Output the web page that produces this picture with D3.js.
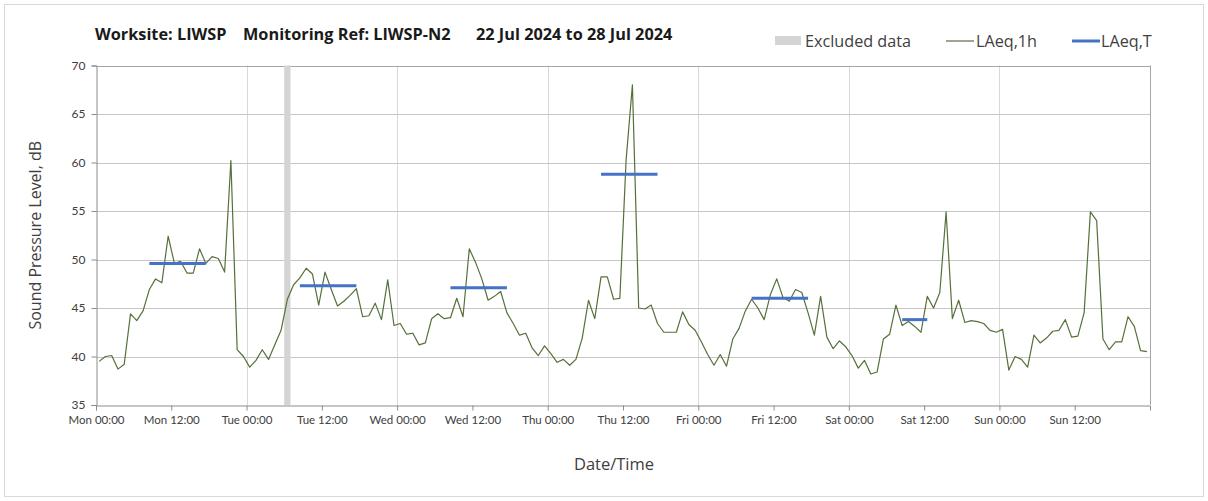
<!DOCTYPE html>
<html>
<head>
<meta charset="utf-8">
<script src="https://cdn.jsdelivr.net/npm/d3@7"></script>
<style>
  body { margin: 0; background: #fff; }
  text { font-family: "Open Sans", sans-serif; }
</style>
</head>
<body>
<script>
// hourly LAeq,1h, Mon 22 Jul 00:00 .. Sun 28 Jul 23:00
var start = "2024-07-22T00:00:00Z";
var laeq1h = [
  39.5, 40.0, 40.1, 38.7, 39.2, 44.4, 43.7, 44.7, 46.9, 48.0, 47.6, 52.4, 49.6, 49.8, 48.6, 48.6, 51.1, 49.6, 50.3, 50.1, 48.7, 60.2, 40.7, 40.0,
  38.9, 39.6, 40.7, 39.7, 41.2, 42.7, 45.9, 47.4, 48.1, 49.1, 48.5, 45.3, 48.7, 46.9, 45.2, 45.7, 46.3, 47.0, 44.1, 44.2, 45.5, 43.8, 47.9, 43.2,
  43.4, 42.3, 42.4, 41.2, 41.4, 43.9, 44.4, 43.9, 44.0, 46.0, 44.1, 51.1, 49.7, 48.0, 45.8, 46.2, 46.7, 44.5, 43.4, 42.2, 42.4, 40.9, 40.1, 41.1,
  40.3, 39.4, 39.7, 39.1, 39.7, 41.9, 45.8, 43.9, 48.2, 48.2, 45.9, 46.0, 60.3, 68.0, 45.0, 44.9, 45.3, 43.4, 42.5, 42.5, 42.5, 44.6, 43.3, 42.7,
  41.5, 40.2, 39.1, 40.2, 39.0, 41.8, 42.9, 44.7, 45.9, 45.0, 43.8, 46.4, 48.0, 46.1, 45.7, 46.9, 46.6, 44.5, 42.2, 46.2, 42.0, 40.8, 41.6, 41.0,
  40.1, 38.8, 39.6, 38.2, 38.4, 41.8, 42.3, 45.3, 43.2, 43.6, 43.1, 42.5, 46.2, 45.0, 46.6, 54.9, 43.9, 45.8, 43.5, 43.7, 43.6, 43.4, 42.7, 42.5,
  42.8, 38.6, 40.0, 39.7, 38.9, 42.2, 41.4, 41.9, 42.6, 42.7, 43.8, 42.0, 42.1, 44.5, 54.9, 54.0, 41.8, 40.7, 41.5, 41.5, 44.1, 43.1, 40.6, 40.5
];

// LAeq,T periods (first and last hourly point of the period)
var periodStart = ["2024-07-22T08:00", "2024-07-23T08:00", "2024-07-24T08:00", "2024-07-25T08:00", "2024-07-26T08:00", "2024-07-27T08:00"];
var periodEnd   = ["2024-07-22T17:00", "2024-07-23T17:00", "2024-07-24T17:00", "2024-07-25T17:00", "2024-07-26T17:00", "2024-07-27T12:00"];
var laeqT = [49.6, 47.3, 47.1, 58.8, 46.0, 43.8];

var excluded = [["2024-07-23T06:00", "2024-07-23T07:00"]];

var yTicks = [35, 40, 45, 50, 55, 60, 65, 70];

var width = 1208, height = 501;
var margin = { top: 65.5, right: 58, bottom: 96, left: 96 };

var utc = function (s) { return new Date(s + (s.length === 16 ? ":00Z" : "")); };
var t0 = utc(start);
var halfHour = 30 * 60 * 1000;
var hourMs = 60 * 60 * 1000;

var data = laeq1h.map(function (v, i) {
  return { t: new Date(t0.getTime() + i * hourMs + halfHour), v: v };
});

var svg = d3.select("body").append("svg")
  .attr("width", width)
  .attr("height", height);

svg.append("rect")
  .attr("x", 4.5).attr("y", 4.5)
  .attr("width", width - 9).attr("height", height - 9)
  .attr("fill", "none")
  .attr("stroke", "#d9d9d9");

var x = d3.scaleUtc()
  .domain([t0, new Date(t0.getTime() + 168 * hourMs)])
  .range([margin.left, width - margin.right]);

var y = d3.scaleLinear()
  .domain([35, 70])
  .range([height - margin.bottom, margin.top]);

var days = d3.utcDay.range(t0, new Date(t0.getTime() + 169 * hourMs));
var halfDays = d3.utcHour.every(12).range(t0, new Date(t0.getTime() + 168 * hourMs));

// gridlines
svg.append("g").selectAll("line").data(days.slice(1)).enter().append("line")
  .attr("x1", function (d) { return Math.round(x(d)) + 0.5; })
  .attr("x2", function (d) { return Math.round(x(d)) + 0.5; })
  .attr("y1", y(70)).attr("y2", y(35))
  .attr("stroke", "#d9d9d9");

svg.append("g").selectAll("line").data(yTicks.slice(1)).enter().append("line")
  .attr("x1", x.range()[0]).attr("x2", x.range()[1])
  .attr("y1", function (d) { return Math.round(y(d)) + 0.5; })
  .attr("y2", function (d) { return Math.round(y(d)) + 0.5; })
  .attr("stroke", function (d) { return d === 70 ? "#a6a6a6" : "#c6c6c6"; });

// right border
svg.append("line")
  .attr("x1", Math.round(x.range()[1]) + 0.5).attr("x2", Math.round(x.range()[1]) + 0.5)
  .attr("y1", y(70)).attr("y2", y(35))
  .attr("stroke", "#a6a6a6");

// excluded band
svg.append("g").selectAll("rect").data(excluded).enter().append("rect")
  .attr("x", function (d) { return x(utc(d[0])); })
  .attr("width", function (d) { return x(utc(d[1])) - x(utc(d[0])); })
  .attr("y", y(70)).attr("height", y(35) - y(70))
  .attr("fill", "#d4d4d4");

// axes
var xAxis = d3.axisBottom(x)
  .tickValues(halfDays)
  .tickSize(5)
  .tickFormat(d3.utcFormat("%a %H:%M"));

var gx = svg.append("g")
  .attr("transform", "translate(0," + (Math.round(y(35)) + 0.5) + ")")
  .call(xAxis);
gx.select(".domain").attr("stroke", "#8c8c8c");
gx.selectAll(".tick line").attr("stroke", "#8c8c8c");
gx.selectAll(".tick text")
  .attr("dy", "0.95em")
  .attr("font-size", 11.5)
  .attr("fill", "#404040")
  .style("font-family", "Lato, sans-serif");

var yAxis = d3.axisLeft(y)
  .tickValues(yTicks)
  .tickSize(5)
  .tickPadding(6);

var gy = svg.append("g")
  .attr("transform", "translate(" + (x.range()[0] + 0.5) + ",0)")
  .call(yAxis);
gy.select(".domain").attr("stroke", "#8c8c8c");
gy.selectAll(".tick line").attr("stroke", "#8c8c8c");
gy.selectAll(".tick text")
  .attr("font-size", 12)
  .attr("fill", "#404040")
  .style("font-family", "Lato, sans-serif");

// LAeq,1h line
var line = d3.line()
  .x(function (d) { return x(d.t); })
  .y(function (d) { return y(d.v); });

svg.append("path")
  .datum(data)
  .attr("d", line)
  .attr("fill", "none")
  .attr("stroke", "#55703a")
  .attr("stroke-width", 1.2)
  .attr("stroke-linejoin", "round");

// LAeq,T segments
svg.append("g").selectAll("line").data(laeqT).enter().append("line")
  .attr("x1", function (d, i) { return x(new Date(utc(periodStart[i]).getTime() + halfHour)); })
  .attr("x2", function (d, i) { return x(new Date(utc(periodEnd[i]).getTime() + halfHour)); })
  .attr("y1", function (d) { return y(d); })
  .attr("y2", function (d) { return y(d); })
  .attr("stroke", "#4472c4")
  .attr("stroke-width", 3);

// titles
var title = svg.append("g")
  .attr("font-weight", "bold")
  .attr("font-size", 16.3)
  .attr("fill", "#1a1a1a");
title.append("text").attr("x", 95).attr("y", 40).text("Worksite: LIWSP");
title.append("text").attr("x", 243).attr("y", 40).text("Monitoring Ref: LIWSP-N2");
title.append("text").attr("x", 476).attr("y", 40).text("22 Jul 2024 to 28 Jul 2024");

svg.append("text")
  .attr("transform", "translate(41," + ((y(35) + y(70)) / 2) + ") rotate(-90)")
  .attr("text-anchor", "middle")
  .attr("font-size", 16)
  .attr("fill", "#404040")
  .text("Sound Pressure Level, dB");

svg.append("text")
  .attr("x", 614)
  .attr("y", 470)
  .attr("text-anchor", "middle")
  .attr("font-size", 16.5)
  .attr("fill", "#404040")
  .text("Date/Time");

// legend
var legend = svg.append("g").attr("font-size", 16.2).attr("fill", "#404040");
legend.append("rect")
  .attr("x", 775).attr("y", 36).attr("width", 26).attr("height", 9)
  .attr("fill", "#d4d4d4");
legend.append("text").attr("x", 805).attr("y", 46.5).text("Excluded data");
legend.append("line")
  .attr("x1", 946).attr("x2", 974).attr("y1", 41).attr("y2", 41)
  .attr("stroke", "#55703a").attr("stroke-width", 1.2);
legend.append("text").attr("x", 976).attr("y", 46.5).text("LAeq,1h");
legend.append("line")
  .attr("x1", 1072).attr("x2", 1100).attr("y1", 41).attr("y2", 41)
  .attr("stroke", "#4472c4").attr("stroke-width", 3);
legend.append("text").attr("x", 1101).attr("y", 46.5).text("LAeq,T");
</script>
</body>
</html>
